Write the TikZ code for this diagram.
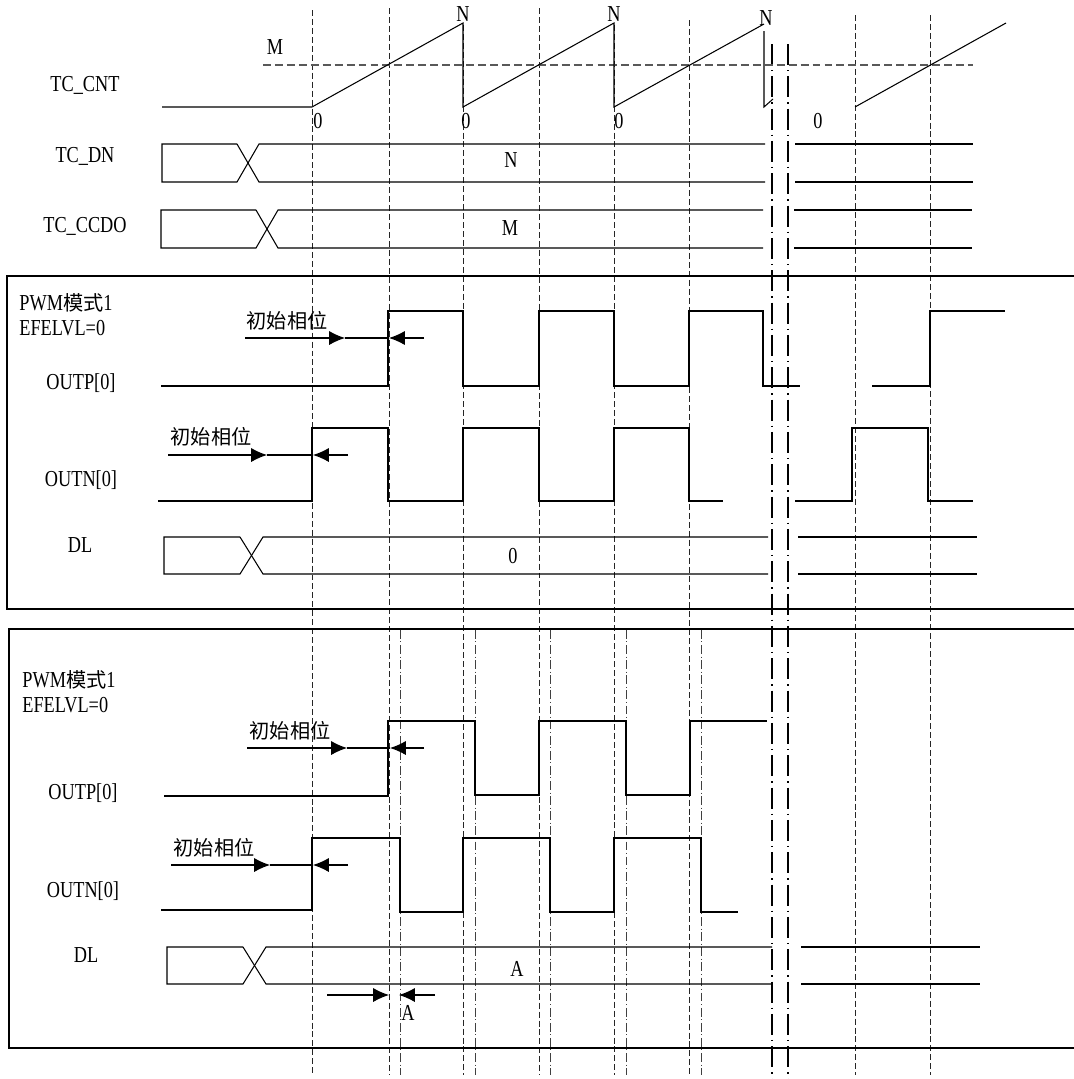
\documentclass[tikz,border=0pt]{standalone}
\usepackage{fontspec}
\setmainfont{Liberation Serif}[FakeStretch=0.8]
\newfontfamily\cjk{Noto Sans CJK SC}
\usepackage{tikz}
\usetikzlibrary{arrows.meta,positioning}

\begin{document}
\begin{tikzpicture}[x=0.02cm, y=-0.02cm,
    sig/.style={draw=black, line width=0.6pt, line join=miter},
    guide/.style={draw=black!85, line width=0.5pt, dash pattern=on 3.4pt off 1.7pt},
    level/.style={draw=black!65, line width=0.6pt, dash pattern=on 4.5pt off 2.3pt},
    delay/.style={draw=black!75, line width=0.45pt, dash pattern=on 5pt off 1.5pt on 0.6pt off 1.5pt},
    brk/.style={draw=black, line width=1.3pt, dash pattern=on 12pt off 2.8pt on 0.8pt off 2.8pt},
    arrow/.style={draw, line width=0.6pt, -{Latex[length=9pt,width=8pt]}},
    box/.style={draw=black, line width=0.6pt},
    label/.style={inner sep=0pt, font=\fontsize{13pt}{15pt}\selectfont},
    tag/.style={inner sep=0pt, font=\fontsize{11.5pt}{13pt}\selectfont\cjk}
]
    \useasboundingbox (0,0) rectangle (1074,1079);

    % Guides
    \foreach \gx/\gy in {312/10, 389/8, 463/25, 539/8, 614/25, 689/20, 855/15, 930/15}
        \draw[guide] (\gx,\gy) -- (\gx,1075);
    \foreach \gx in {400, 475, 550, 626, 701}
        \draw[delay] (\gx,630) -- (\gx,1075);
    \foreach \gx in {772, 788}
        \draw[brk] (\gx,44) -- (\gx,1079);
    \draw[level] (263,65) -- (973,65);

    % Frames
    \draw[box] (1074,276) -- (7,276) -- (7,609) -- (1074,609);
    \draw[box] (1074,629) -- (9,629) -- (9,1048) -- (1074,1048);

    % Signal names
    \node[label] (cnt) at (85,85) {TC\_CNT};
    \node[label] (dn) at (85,156) {TC\_DN};
    \node[label] (ccdo) at (85,226) {TC\_CCDO};
    \node[label, anchor=west] (modeA) at (19,303) {PWM{\cjk\fontsize{11.5pt}{13pt}\selectfont 模式}1};
    \node[label, anchor=west] (lvlA) at (19,328) {EFELVL=0};
    \node[label] (outpA) at (81,383) {OUTP[0]};
    \node[label] (outnA) at (81,480) {OUTN[0]};
    \node[label] (dlA) at (80,545) {DL};
    \node[label, anchor=west] (modeB) at (22,680) {PWM{\cjk\fontsize{11.5pt}{13pt}\selectfont 模式}1};
    \node[label, anchor=west] (lvlB) at (22,705) {EFELVL=0};
    \node[label] (outpB) at (83,793) {OUTP[0]};
    \node[label] (outnB) at (83,891) {OUTN[0]};
    \node[label] (dlB) at (86,955) {DL};

    % Counter
    \draw[sig] (162,107) -- (312,107) -- (463,23) -- (463,107) -- (614,23) -- (614,107) -- (764,24);
    \draw[sig] (764,31) -- (764,107) -- (773,99);
    \draw[sig] (855,107) -- (1006,23);
    \node[label] (mlvl) at (275,47) {M};
    \node[label] (n1) at (463,14) {N};
    \node[label] (n2) at (614,14) {N};
    \node[label] (n3) at (766,18) {N};
    \node[label] (z1) at (318,121) {0};
    \node[label] (z2) at (466,121) {0};
    \node[label] (z3) at (619,121) {0};
    \node[label] (z4) at (818,121) {0};

    % Buses
    \draw[sig] (237,144) -- (162,144) -- (162,182) -- (237,182) -- (259,144) -- (765,144);
    \draw[sig] (237,144) -- (259,182) -- (765,182);
    \draw[sig] (795,144) -- (973,144) (795,182) -- (973,182);
    \node[label] (dnval) at (511,160) {N};

    \draw[sig] (256,210) -- (161,210) -- (161,248) -- (256,248) -- (278,210) -- (763,210);
    \draw[sig] (256,210) -- (278,248) -- (763,248);
    \draw[sig] (794,210) -- (972,210) (794,248) -- (972,248);
    \node[label] (ccval) at (510,228) {M};

    \draw[sig] (240,537) -- (164,537) -- (164,574) -- (240,574) -- (263,537) -- (768,537);
    \draw[sig] (240,537) -- (263,574) -- (768,574);
    \draw[sig] (798,537) -- (977,537) (798,574) -- (977,574);
    \node[label] (dlvalA) at (513,556) {0};

    \draw[sig] (243,947) -- (167,947) -- (167,984) -- (243,984) -- (266,947) -- (772,947);
    \draw[sig] (243,947) -- (266,984) -- (772,984);
    \draw[sig] (801,947) -- (980,947) (801,984) -- (980,984);
    \node[label] (dlvalB) at (517,969) {A};

    % Outputs, no dead time
    \draw[sig] (161,386) -- (388,386) -- (388,311) -- (463,311) -- (463,386) -- (539,386) -- (539,311)
        -- (614,311) -- (614,386) -- (689,386) -- (689,311) -- (763,311) -- (763,386) -- (800,386);
    \draw[sig] (872,386) -- (930,386) -- (930,311) -- (1005,311);
    \draw[sig] (158,501) -- (312,501) -- (312,428) -- (388,428) -- (388,501) -- (463,501) -- (463,428)
        -- (539,428) -- (539,501) -- (614,501) -- (614,428) -- (689,428) -- (689,501) -- (723,501);
    \draw[sig] (795,501) -- (852,501) -- (852,428) -- (928,428) -- (928,501) -- (973,501);

    % Outputs, with dead time
    \draw[sig] (164,796) -- (388,796) -- (388,721) -- (475,721) -- (475,795) -- (539,795) -- (539,721)
        -- (626,721) -- (626,795) -- (690,795) -- (690,721) -- (767,721);
    \draw[sig] (161,910) -- (312,910) -- (312,838) -- (400,838) -- (400,912) -- (463,912) -- (463,838)
        -- (550,838) -- (550,912) -- (614,912) -- (614,838) -- (701,838) -- (701,912) -- (738,912);

    % Arrows
    \node[tag] (phA) at (287,321) {初始相位};
    \coordinate (phA1) at (245,338); \coordinate (phA2) at (345,338);
    \coordinate (phA3) at (389,338); \coordinate (phA4) at (424,338);
    \path[arrow] (phA1) -- (phA2);
    \draw[sig] (phA2) -- (phA3);
    \path[arrow] (phA4) -- (phA3);

    \node[tag] (phB) at (211,437) {初始相位};
    \coordinate (phB1) at (168,455); \coordinate (phB2) at (267,455);
    \coordinate (phB3) at (313,455); \coordinate (phB4) at (348,455);
    \path[arrow] (phB1) -- (phB2);
    \draw[sig] (phB2) -- (phB3);
    \path[arrow] (phB4) -- (phB3);

    \node[tag] (phC) at (290,731) {初始相位};
    \coordinate (phC1) at (247,748); \coordinate (phC2) at (347,748);
    \coordinate (phC3) at (390,748); \coordinate (phC4) at (424,748);
    \path[arrow] (phC1) -- (phC2);
    \draw[sig] (phC2) -- (phC3);
    \path[arrow] (phC4) -- (phC3);

    \node[tag] (phD) at (214,848) {初始相位};
    \coordinate (phD1) at (171,865); \coordinate (phD2) at (270,865);
    \coordinate (phD3) at (313,865); \coordinate (phD4) at (348,865);
    \path[arrow] (phD1) -- (phD2);
    \draw[sig] (phD2) -- (phD3);
    \path[arrow] (phD4) -- (phD3);

    \coordinate (dtA1) at (327,995); \coordinate (dtA2) at (389,995);
    \coordinate (dtB1) at (435,995); \coordinate (dtB2) at (399,995);
    \path[arrow] (dtA1) -- (dtA2);
    \path[arrow] (dtB1) -- (dtB2);
    \node[label] (dtval) at (408,1013) {A};
\end{tikzpicture}
\end{document}
